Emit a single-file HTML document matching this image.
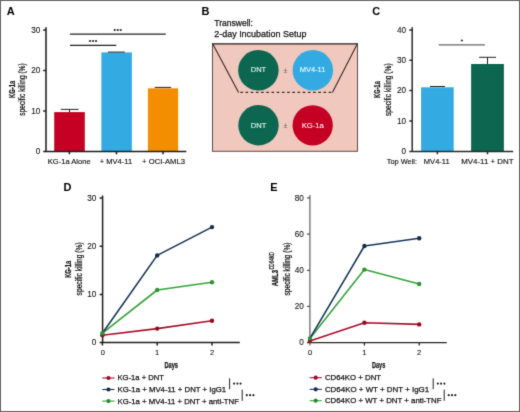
<!DOCTYPE html>
<html><head><meta charset="utf-8">
<style>
html,body{margin:0;padding:0;background:#fff;}
body{width:520px;height:412px;overflow:hidden;}
svg{display:block;will-change:transform;}
text{font-family:"Liberation Sans",sans-serif;}
</style></head>
<body>
<svg width="520" height="412" viewBox="0 0 520 412">
<defs><filter id="bl" x="0" y="0" width="520" height="412" filterUnits="userSpaceOnUse" color-interpolation-filters="sRGB"><feConvolveMatrix order="3" kernelMatrix="0.0144 0.0912 0.0144 0.0912 0.5776 0.0912 0.0144 0.0912 0.0144" edgeMode="duplicate" preserveAlpha="true"/></filter></defs>
<g filter="url(#bl)">
<rect x="0" y="0" width="520" height="412" fill="#fff"/>

<!-- ================= PANEL A ================= -->
<g>
<text x="6.8" y="15" font-size="11" font-weight="bold" fill="#000">A</text>
<!-- bars -->
<rect x="54.2" y="112.1" width="30.6" height="39.3" fill="#c50024"/>
<rect x="101.4" y="52.4" width="30.5" height="99" fill="#33abe2"/>
<rect x="147.9" y="88.3" width="30.2" height="63.1" fill="#f38e00"/>
<!-- error bars -->
<g stroke="#222" stroke-width="1" fill="none">
<path d="M60.8 109.4H78.5M69.5 109.4V112.1"/>
<path d="M108 52.1H124.8"/>
<path d="M154.7 87.4H171.1"/>
</g>
<!-- axes -->
<g stroke="#1e1e1e" stroke-width="1.55" fill="none">
<path d="M46 27.3V151.4"/>
<path d="M43.2 151.4H186.3"/>
<path d="M43.2 30H46M43.2 70.5H46M43.2 111H46"/>
<path d="M69.4 151.4V154.3M116.5 151.4V154.3M163 151.4V154.3"/>
</g>
<!-- sig -->
<g stroke="#222" stroke-width="1.2">
<path d="M70 34.1H165.8"/>
<path d="M70 45.3H116.3"/>
</g>
<g fill="#222">
<circle cx="114.7" cy="30" r="1.1"/><circle cx="117.7" cy="30" r="1.1"/><circle cx="120.7" cy="30" r="1.1"/>
<circle cx="90" cy="41" r="1.1"/><circle cx="93" cy="41" r="1.1"/><circle cx="96" cy="41" r="1.1"/>
</g>
<!-- tick labels -->
<g font-size="8.2" fill="#141414" stroke="#141414" stroke-width="0.1" text-anchor="end">
<text x="40.4" y="32.75">30</text>
<text x="40.4" y="73.25">20</text>
<text x="40.4" y="113.75">10</text>
<text x="40.4" y="154.15">0</text>
</g>
<g font-size="7.7" fill="#141414" stroke="#141414" stroke-width="0.15">
<text x="47.7" y="164.2" textLength="43" lengthAdjust="spacingAndGlyphs">KG-1a Alone</text>
<text x="99.8" y="164.2" textLength="32.3" lengthAdjust="spacingAndGlyphs">+ MV4-11</text>
<text x="142.1" y="164.2" textLength="42.9" lengthAdjust="spacingAndGlyphs">+ OCI-AML3</text>
</g>
<g font-size="8.2" fill="#141414" stroke="#141414" stroke-width="0.25" text-anchor="middle">
<text transform="translate(14.6 89.3) rotate(-90)" font-weight="bold" font-size="8.6" textLength="17.2" lengthAdjust="spacingAndGlyphs">KG-1a</text>
<text transform="translate(24.9 89.5) rotate(-90)" textLength="52.3" lengthAdjust="spacingAndGlyphs">specific killing (%)</text>
</g>
</g>

<!-- ================= PANEL B ================= -->
<g>
<text x="201.6" y="15" font-size="11" font-weight="bold" fill="#000">B</text>
<text x="214.3" y="26.1" font-size="9.2" fill="#141414" stroke="#141414" stroke-width="0.25" textLength="38.6" lengthAdjust="spacingAndGlyphs">Transwell:</text>
<text x="214.2" y="37" font-size="8.8" fill="#141414" stroke="#141414" stroke-width="0.25" textLength="92.3" lengthAdjust="spacingAndGlyphs">2-day Incubation Setup</text>
<rect x="212.5" y="43.5" width="145" height="107.8" fill="#f0c8bd" stroke="#5e4c4a" stroke-width="1"/>
<g stroke="#3a2826" stroke-width="1.1" fill="none">
<path d="M212.5 43.8H357.5" stroke="#66524f" stroke-width="1.7"/>
<path d="M212.5 43.5L238.6 92.5"/>
<path d="M357.5 43.5L332.4 92.5"/>
<path d="M240.3 92.4H332" stroke-dasharray="2.6 2.6" stroke-width="1.3"/>
</g>
<circle cx="258.4" cy="70.2" r="20.25" fill="#0c6650"/>
<circle cx="312.85" cy="70.25" r="20.25" fill="#33abe2"/>
<circle cx="258.5" cy="125.2" r="20.2" fill="#0c6650"/>
<circle cx="312.7" cy="125.3" r="20.15" fill="#c50024"/>
<g font-size="7.8" stroke-width="0.15" text-anchor="middle">
<text x="258.5" y="72.3" fill="#d8f3e6" stroke="#d8f3e6" textLength="15.4" lengthAdjust="spacingAndGlyphs">DNT</text>
<text x="312.6" y="72.3" fill="#eaf8fd" stroke="#eaf8fd" textLength="25.5" lengthAdjust="spacingAndGlyphs">MV4-11</text>
<text x="258.5" y="127.9" fill="#d8f3e6" stroke="#d8f3e6" textLength="15.5" lengthAdjust="spacingAndGlyphs">DNT</text>
<text x="312.8" y="127.9" fill="#fbe6ea" stroke="#fbe6ea" textLength="22.2" lengthAdjust="spacingAndGlyphs">KG-1a</text>
</g>
<g font-size="7" fill="#6a5a58" text-anchor="middle">
<text x="285.4" y="72.5">±</text>
<text x="285.5" y="128">±</text>
</g>
</g>

<!-- ================= PANEL C ================= -->
<g>
<text x="372.3" y="15" font-size="11" font-weight="bold" fill="#000">C</text>
<rect x="421.1" y="87.3" width="32.6" height="64.1" fill="#33abe2"/>
<rect x="471.1" y="64" width="32.8" height="87.4" fill="#0c6650"/>
<g stroke="#222" stroke-width="1" fill="none">
<path d="M430 86.5H445"/>
<path d="M479.1 57.3H496M487.5 57.3V64"/>
</g>
<g stroke="#2a2a2a" stroke-width="1.5" fill="none">
<path d="M412.2 27.3V151.4"/>
<path d="M409.3 151.4H513.2"/>
<path d="M409.3 30H412.3M409.3 60.25H412.3M409.3 90.5H412.3M409.3 120.9H412.3"/>
<path d="M437.4 151.4V154.3M487.5 151.4V154.3"/>
</g>
<path d="M438.7 44.8H484.9" stroke="#666" stroke-width="1.3"/>
<circle cx="461.9" cy="40.5" r="1.1" fill="#333"/>
<g font-size="8.2" fill="#141414" stroke="#141414" stroke-width="0.1" text-anchor="end">
<text x="406" y="32.75">40</text>
<text x="406" y="63">30</text>
<text x="406" y="93.25">20</text>
<text x="406" y="123.65">10</text>
<text x="406" y="154.1">0</text>
</g>
<g font-size="7.7" fill="#141414" stroke="#141414" stroke-width="0.15">
<text x="386.7" y="163.9" textLength="30.3" lengthAdjust="spacingAndGlyphs">Top Well:</text>
<text x="423.8" y="163.9" textLength="25.9" lengthAdjust="spacingAndGlyphs">MV4-11</text>
<text x="461.2" y="163.9" textLength="52.4" lengthAdjust="spacingAndGlyphs">MV4-11 + DNT</text>
</g>
<g font-size="8.2" fill="#141414" stroke="#141414" stroke-width="0.25" text-anchor="middle">
<text transform="translate(379.6 89.5) rotate(-90)" font-weight="bold" font-size="8.6" textLength="16.8" lengthAdjust="spacingAndGlyphs">KG-1a</text>
<text transform="translate(391.2 89.65) rotate(-90)" textLength="52.6" lengthAdjust="spacingAndGlyphs">specific killing (%)</text>
</g>
</g>

<!-- ================= PANEL D ================= -->
<g>
<text x="63.5" y="190.8" font-size="11" font-weight="bold" fill="#000">D</text>
<g stroke="#1e1e1e" stroke-width="1.5" fill="none">
<path d="M102.6 195.5V342.6"/>
<path d="M99.6 342.6H239.8"/>
<path d="M99.6 198.1H102.4M99.6 246.2H102.4M99.6 294.4H102.4"/>
<path d="M102.4 342.6V345.4M157.2 342.6V345.4M212 342.6V345.4"/>
</g>
<g font-size="8.2" fill="#141414" stroke="#141414" stroke-width="0.1" text-anchor="end">
<text x="96.4" y="200.8">30</text>
<text x="96.4" y="248.9">20</text>
<text x="96.4" y="297.1">10</text>
<text x="96.4" y="345.3">0</text>
</g>
<g font-size="7.5" fill="#141414" stroke="#141414" stroke-width="0.1" text-anchor="middle">
<text x="102.8" y="355.3">0</text>
<text x="157.2" y="355.3">1</text>
<text x="212" y="355.3">2</text>
</g>
<text x="164.5" y="367.6" font-size="9" font-weight="bold" fill="#141414" stroke="#141414" stroke-width="0.25" textLength="13.5" lengthAdjust="spacingAndGlyphs">Days</text>
<g font-size="8.2" fill="#141414" stroke="#141414" stroke-width="0.25" text-anchor="middle">
<text transform="translate(70.6 269.3) rotate(-90)" font-weight="bold" font-size="8.6" textLength="17" lengthAdjust="spacingAndGlyphs">KG-1a</text>
<text transform="translate(81.9 268.9) rotate(-90)" textLength="53" lengthAdjust="spacingAndGlyphs">specific killing (%)</text>
</g>
<!-- data -->
<g fill="none" stroke-width="1.6" stroke-linejoin="round">
<polyline points="102.4,335.2 157.2,328.6 212,320.7" stroke="#aa0f2c"/>
<polyline points="102.4,333.2 157.2,290 212,282.2" stroke="#36a33c"/>
<polyline points="102.4,333.2 157.2,255.4 212,227.1" stroke="#183558"/>
</g>
<g fill="#980a26"><circle cx="102.4" cy="335.2" r="2.2"/><circle cx="157.2" cy="328.6" r="2.2"/><circle cx="212" cy="320.7" r="2.2"/></g>
<g fill="#2e9236"><circle cx="102.4" cy="333.2" r="2.2"/><circle cx="157.2" cy="290" r="2.2"/><circle cx="212" cy="282.2" r="2.2"/></g>
<g fill="#132c4e"><circle cx="157.2" cy="255.4" r="2.2"/><circle cx="212" cy="227.1" r="2.2"/></g>
<!-- legend -->
<g stroke-width="1.1">
<path d="M102.3 378H114.5" stroke="#aa0f2c"/><circle cx="108.5" cy="378" r="2.1" fill="#a00a28"/>
<path d="M102.3 389.5H114.5" stroke="#183558"/><circle cx="108.5" cy="389.5" r="2.1" fill="#132c4e"/>
<path d="M102.3 401.1H114.5" stroke="#36a33c"/><circle cx="108.5" cy="401.1" r="2.1" fill="#2a8a34"/>
</g>
<g font-size="7.8" fill="#141414" stroke="#141414" stroke-width="0.25">
<text x="117.5" y="380.4" textLength="46.4" lengthAdjust="spacingAndGlyphs">KG-1a + DNT</text>
<text x="117.5" y="392.4" textLength="108.7" lengthAdjust="spacingAndGlyphs">KG-1a + MV4-11 + DNT + IgG1</text>
<text x="117.5" y="404.1" textLength="121.4" lengthAdjust="spacingAndGlyphs">KG-1a + MV4-11 + DNT + anti-TNF</text>
</g>
<g stroke="#222" stroke-width="1"><path d="M229.6 378.3V389.2"/><path d="M242.2 389.6V400.9"/></g>
<g fill="#222">
<circle cx="234.1" cy="383.6" r="1.1"/><circle cx="237.4" cy="383.6" r="1.1"/><circle cx="240.6" cy="383.6" r="1.1"/>
<circle cx="246.8" cy="395.2" r="1.1"/><circle cx="250.1" cy="395.2" r="1.1"/><circle cx="253.4" cy="395.2" r="1.1"/>
</g>
</g>

<!-- ================= PANEL E ================= -->
<g>
<text x="270.3" y="191" font-size="11" font-weight="bold" fill="#000">E</text>
<g stroke-width="1.3" fill="none">
<path d="M309.9 195V345.4" stroke="#6a6a6a"/>
<path d="M307 197.8H309.9M307 234.1H309.9M307 270.3H309.9M307 306.4H309.9" stroke="#555"/>
<path d="M307 342.6H446.8" stroke="#262626"/>
<path d="M364.4 342.6V345.4M419.2 342.6V345.4" stroke="#262626"/>
</g>
<g font-size="8.2" fill="#141414" stroke="#141414" stroke-width="0.1" text-anchor="end">
<text x="303.8" y="200.5">80</text>
<text x="303.8" y="236.8">60</text>
<text x="303.8" y="273">40</text>
<text x="303.8" y="309.1">20</text>
<text x="303.8" y="345.3">0</text>
</g>
<g font-size="7.5" fill="#141414" stroke="#141414" stroke-width="0.1" text-anchor="middle">
<text x="310" y="355.3">0</text>
<text x="364.4" y="355.3">1</text>
<text x="419.2" y="355.3">2</text>
</g>
<text x="372" y="368" font-size="9" font-weight="bold" fill="#141414" stroke="#141414" stroke-width="0.25" textLength="13.2" lengthAdjust="spacingAndGlyphs">Days</text>
<g fill="#141414" stroke="#141414" stroke-width="0.25">
<text transform="translate(277.7 286.3) rotate(-90)" font-weight="bold" font-size="8.6" textLength="16.4" lengthAdjust="spacingAndGlyphs">AML3</text>
<text transform="translate(273.6 269.6) rotate(-90)" font-size="7" textLength="17.6" lengthAdjust="spacingAndGlyphs">CD64KO</text>
<text transform="translate(289.9 269) rotate(-90)" font-size="8.2" text-anchor="middle" textLength="53.2" lengthAdjust="spacingAndGlyphs">specific killing (%)</text>
</g>
<g fill="none" stroke-width="1.6" stroke-linejoin="round">
<polyline points="309.9,341.1 364.4,322.7 419.2,324.4" stroke="#aa0f2c"/>
<polyline points="309.9,338.4 364.4,269.6 419.2,284" stroke="#36a33c"/>
<polyline points="309.9,338.4 364.4,246 419.2,238.3" stroke="#183558"/>
</g>
<g fill="#980a26"><circle cx="309.9" cy="341.1" r="2.2"/><circle cx="364.4" cy="322.7" r="2.2"/><circle cx="419.2" cy="324.4" r="2.2"/></g>
<g fill="#2e9236"><circle cx="309.9" cy="338.4" r="2.2"/><circle cx="364.4" cy="269.6" r="2.2"/><circle cx="419.2" cy="284" r="2.2"/></g>
<g fill="#132c4e"><circle cx="364.4" cy="246" r="2.2"/><circle cx="419.2" cy="238.3" r="2.2"/></g>
<g stroke-width="1.1">
<path d="M309.7 377.7H321.8" stroke="#aa0f2c"/><circle cx="315.7" cy="377.7" r="2.1" fill="#a00a28"/>
<path d="M309.7 389.3H321.8" stroke="#183558"/><circle cx="315.7" cy="389.3" r="2.1" fill="#132c4e"/>
<path d="M309.7 400.7H321.8" stroke="#36a33c"/><circle cx="315.7" cy="400.7" r="2.1" fill="#2a8a34"/>
</g>
<g font-size="7.8" fill="#141414" stroke="#141414" stroke-width="0.25">
<text x="324.9" y="380.3" textLength="56.2" lengthAdjust="spacingAndGlyphs">CD64KO + DNT</text>
<text x="324.9" y="392.1" textLength="104.3" lengthAdjust="spacingAndGlyphs">CD64KO + WT + DNT + IgG1</text>
<text x="324.9" y="403.3" textLength="116.6" lengthAdjust="spacingAndGlyphs">CD64KO + WT + DNT + anti-TNF</text>
</g>
<g stroke="#222" stroke-width="1"><path d="M433.2 378.3V389.2"/><path d="M444.2 389.6V400.8"/></g>
<g fill="#222">
<circle cx="437.8" cy="383.6" r="1.1"/><circle cx="441.1" cy="383.6" r="1.1"/><circle cx="444.4" cy="383.6" r="1.1"/>
<circle cx="448.7" cy="395.2" r="1.1"/><circle cx="452" cy="395.2" r="1.1"/><circle cx="455.3" cy="395.2" r="1.1"/>
</g>
</g>

<!-- border -->
<rect x="0.5" y="0.5" width="519" height="411" fill="none" stroke="#666" stroke-width="1"/>
</g>
</svg>
</body></html>
